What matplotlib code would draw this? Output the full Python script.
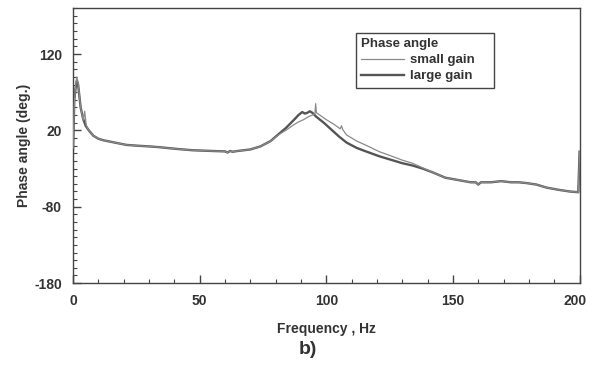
import matplotlib
matplotlib.use("Agg")
import matplotlib.pyplot as plt
from matplotlib.ticker import MultipleLocator, FixedLocator, FuncFormatter

plt.rcParams['font.family'] = ['Liberation Sans', 'DejaVu Sans']
plt.rcParams['font.weight'] = 'bold'
plt.rcParams['axes.unicode_minus'] = False

# Large gain (thick dark line)
freq_large = [0, 0.5, 1.0, 1.5, 2.0, 2.5, 3, 4, 5, 6, 7, 8, 10, 12, 15, 18, 21, 25, 30, 34,
              40, 47, 55, 60, 61, 62, 63, 65, 70, 74, 78, 81.5, 84, 87, 89, 90.5, 91.5, 92.5,
              93.5, 94.5, 96, 99, 102, 105, 108, 112, 116, 121, 126, 130, 134, 138, 142, 147,
              152, 157, 159, 160, 161, 165, 169, 173, 176, 179, 181, 183, 187, 192, 196, 199.5, 200]
phase_large = [-5, 60, 75, 85, 80, 65, 50, 35, 26, 21, 17, 13, 9, 7, 5, 3, 1, 0, -1, -2,
               -4, -6, -7, -7.5, -9, -7, -8, -7, -5, -1, 6, 16, 23, 33, 40, 44, 42, 43,
               45, 43, 38, 30, 21, 12, 4, -3, -8, -14, -19, -23, -26, -30, -35, -42,
               -45, -48, -48, -51, -48, -48, -46.5, -48, -48, -49, -50, -51, -55, -58, -60, -61, -8]

# Small gain (thin light line)
freq_small = [0, 0.5, 1.0, 1.5, 2.0, 2.5, 3, 4, 4.6, 5.2, 6, 7, 8, 10, 12, 15, 18, 21, 25, 30, 34,
              40, 47, 55, 60, 61, 62, 63, 65, 70, 74, 78, 81.5, 84, 87, 89, 91, 92, 93, 94.5,
              95.5, 95.8, 96.1, 97, 100, 103, 105.5, 106, 106.5, 108, 112, 116, 121, 126, 130,
              134, 138, 142, 147, 152, 157, 159, 160, 161, 165, 169, 173, 176, 179, 181, 183,
              187, 192, 196, 199.5, 200]
phase_small = [-3, 55, 78, 90, 82, 66, 50, 33, 45, 27, 21, 17, 13, 9, 7, 5, 3, 1, 0, -1, -2,
               -4, -6, -7, -7.5, -9, -7, -8, -7, -5, -1, 6, 15, 20, 27, 31, 34, 36, 38, 40,
               42, 55, 43, 41, 34, 28, 22, 26, 21, 14, 6, 0, -8, -14, -19,
               -23, -29, -35, -42, -45, -48, -48, -51, -48, -48, -46.5, -48, -48, -49, -50, -51,
               -55, -58, -60, -61, -8]

y_major = [-180, -80, 20, 120]
x_last = 200

fig = plt.figure(figsize=(5.89, 3.72), dpi=100)
ax = fig.add_axes([0.124, 0.239, 0.860, 0.739])

ax.plot(freq_small, phase_small, color='#8a8a8a', lw=0.9, label='small gain', zorder=3)
ax.plot(freq_large, phase_large, color='#555555', lw=1.7, label='large gain', zorder=2)

ax.set_xlim(0, x_last)
ax.set_ylim(-180, 180)
ax.xaxis.set_major_locator(MultipleLocator(50))
ax.xaxis.set_minor_locator(MultipleLocator(10))
ax.xaxis.set_major_formatter(FuncFormatter(lambda v, p: '' if v >= x_last else f'{v:g}'))
ax.yaxis.set_major_locator(FixedLocator(y_major))
ax.yaxis.set_minor_locator(MultipleLocator(10))
ax.tick_params(which='both', direction='in', top=False, right=False, color='#444444')
ax.tick_params(which='major', length=6, width=1, labelsize=10, labelcolor='#333333', pad=8)
ax.tick_params(which='minor', length=3, width=0.8)
for lab in ax.get_xticklabels() + ax.get_yticklabels():
    lab.set_fontweight('bold')
for s in ax.spines.values():
    s.set_color('#444444')
    s.set_linewidth(1.0)

# last x tick label, nudged slightly left so it stays inside the figure
ax.annotate(f'{x_last:g}', xy=(x_last, 0), xycoords=('data', 'axes fraction'),
            xytext=(-3, -8), textcoords='offset points', ha='center', va='top',
            fontsize=10, fontweight='bold', color='#333333', annotation_clip=False)

ax.set_xlabel('Frequency , Hz', fontsize=10, fontweight='bold', color='#333333', labelpad=10)
ax.set_ylabel('Phase angle (deg.)', fontsize=10, fontweight='bold', color='#333333', labelpad=2)

leg = ax.legend(title='Phase angle', loc='upper left',
                bbox_to_anchor=(0.559, 0.705, 0.272, 0.206), mode='expand',
                fontsize=9.5, title_fontsize=9.5, alignment='left', fancybox=False,
                edgecolor='#444444', framealpha=1, handlelength=3.2, borderpad=0.4,
                labelspacing=0.3, handletextpad=0.5, borderaxespad=0)
leg.get_frame().set_linewidth(1.0)
leg.get_title().set_fontweight('bold')
leg.get_title().set_color('#333333')
for t in leg.get_texts():
    t.set_fontweight('bold')
    t.set_color('#333333')

fig.text(0.523, 0.06, 'b)', fontsize=14, fontweight='bold', color='#333333', ha='center', va='center')

fig.savefig('out.png', dpi=100)
